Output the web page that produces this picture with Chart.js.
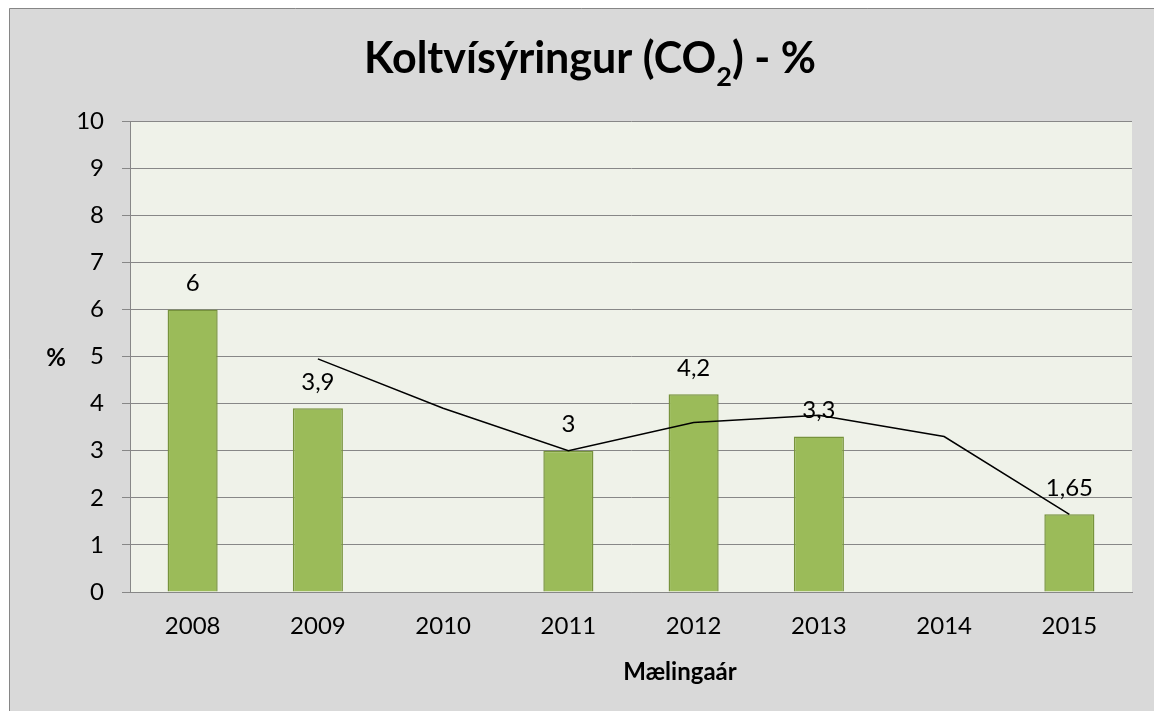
<!DOCTYPE html>
<html>
<head>
<meta charset="utf-8">
<script src="https://cdn.jsdelivr.net/npm/chart.js@4/dist/chart.umd.min.js"></script>
<style>
  html, body { margin: 0; padding: 0; background: #ffffff; }
  canvas { display: block; }
</style>
</head>
<body>
<canvas id="co2Chart" width="1154" height="711"></canvas>
<script>
// data
const years = ["2008", "2009", "2010", "2011", "2012", "2013", "2014", "2015"];
const co2Values = [6, 3.9, null, 3, 4.2, 3.3, null, 1.65];
const trendValues = [null, 4.95, 3.9, 3, 3.6, 3.75, 3.3, 1.65];
const yMin = 0;
const yMax = 10;
const yStep = 1;

const FONT = "Lato, 'Open Sans', sans-serif";
const GRID = "#878787";

function formatIs(v) {
  return String(v).replace(".", ",");
}

const backgroundPlugin = {
  id: "background",
  beforeDraw(chart) {
    const { ctx, width, height, chartArea } = chart;
    ctx.save();
    ctx.fillStyle = "#ffffff";
    ctx.fillRect(0, 0, width, height);
    ctx.fillStyle = "#d9d9d9";
    ctx.fillRect(9, 8, width - 9, height - 8);
    ctx.strokeStyle = "#868686";
    ctx.lineWidth = 1;
    ctx.beginPath();
    ctx.moveTo(9.5, height);
    ctx.lineTo(9.5, 8.5);
    ctx.lineTo(width, 8.5);
    ctx.stroke();
    ctx.fillStyle = "#eff2e9";
    ctx.fillRect(
      chartArea.left,
      chartArea.top,
      chartArea.right - chartArea.left,
      chartArea.bottom - chartArea.top,
    );
    ctx.restore();
  },
};

const textPlugin = {
  id: "texts",
  afterDraw(chart) {
    const { ctx } = chart;
    ctx.save();
    ctx.fillStyle = "#000000";

    // title with subscript 2
    const mainFont = "bold 43px " + FONT;
    const subFont = "bold 27px " + FONT;
    const partA = "Koltvísýringur (CO";
    const partB = "2";
    const partC = ") - %";
    ctx.font = mainFont;
    const wA = ctx.measureText(partA).width;
    const wC = ctx.measureText(partC).width;
    ctx.font = subFont;
    const wB = ctx.measureText(partB).width;
    let x = 590 - (wA + wB + wC) / 2;
    const baseY = 73;
    ctx.textBaseline = "alphabetic";
    ctx.textAlign = "left";
    ctx.font = mainFont;
    ctx.fillText(partA, x, baseY);
    x += wA;
    ctx.font = subFont;
    ctx.fillText(partB, x, baseY + 13);
    x += wB;
    ctx.font = mainFont;
    ctx.fillText(partC, x, baseY);

    // axis titles
    ctx.font = "bold 24px " + FONT;
    ctx.textAlign = "center";
    ctx.fillText("%", 56, 366);
    ctx.fillText("Mælingaár", 680, 680);

    // bar value labels (bar dataset is index 1)
    const meta = chart.getDatasetMeta(1);
    ctx.font = "24px " + FONT;
    ctx.textBaseline = "middle";
    meta.data.forEach((bar, i) => {
      const v = co2Values[i];
      if (v === null) return;
      ctx.fillText(formatIs(v), bar.x, bar.y - 26);
    });
    ctx.restore();
  },
};

const ctx = document.getElementById("co2Chart").getContext("2d");

new Chart(ctx, {
  data: {
    labels: years,
    datasets: [
      {
        type: "line",
        label: "Meðaltal",
        data: trendValues,
        borderColor: "#000000",
        borderWidth: 1.5,
        pointRadius: 0,
        tension: 0,
        spanGaps: false,
        order: 0,
      },
      {
        type: "bar",
        label: "CO2",
        data: co2Values,
        backgroundColor: "#9bbb59",
        borderColor: "#77933c",
        borderWidth: 1.5,
        categoryPercentage: 1,
        barPercentage: 0.4,
        order: 1,
      },
    ],
  },
  options: {
    responsive: false,
    animation: false,
    devicePixelRatio: 1,
    layout: { padding: { left: 0, top: 121, right: 22, bottom: 0 } },
    plugins: {
      legend: { display: false },
      tooltip: { enabled: false },
      title: { display: false },
    },
    scales: {
      x: {
        afterFit: (scale) => {
          scale.height = 119;
        },
        grid: { display: false, drawTicks: false },
        border: { display: true, color: GRID, width: 1 },
        ticks: {
          color: "#000000",
          padding: 20,
          font: { family: FONT, size: 24 },
          maxRotation: 0,
        },
      },
      y: {
        min: yMin,
        max: yMax,
        afterFit: (scale) => {
          scale.width = 130;
        },
        grid: { color: GRID, lineWidth: 1, tickLength: 8 },
        border: { display: true, color: GRID, width: 1 },
        ticks: {
          stepSize: yStep,
          color: "#000000",
          padding: 18,
          font: { family: FONT, size: 24 },
        },
      },
    },
  },
  plugins: [backgroundPlugin, textPlugin],
});
</script>
</body>
</html>
